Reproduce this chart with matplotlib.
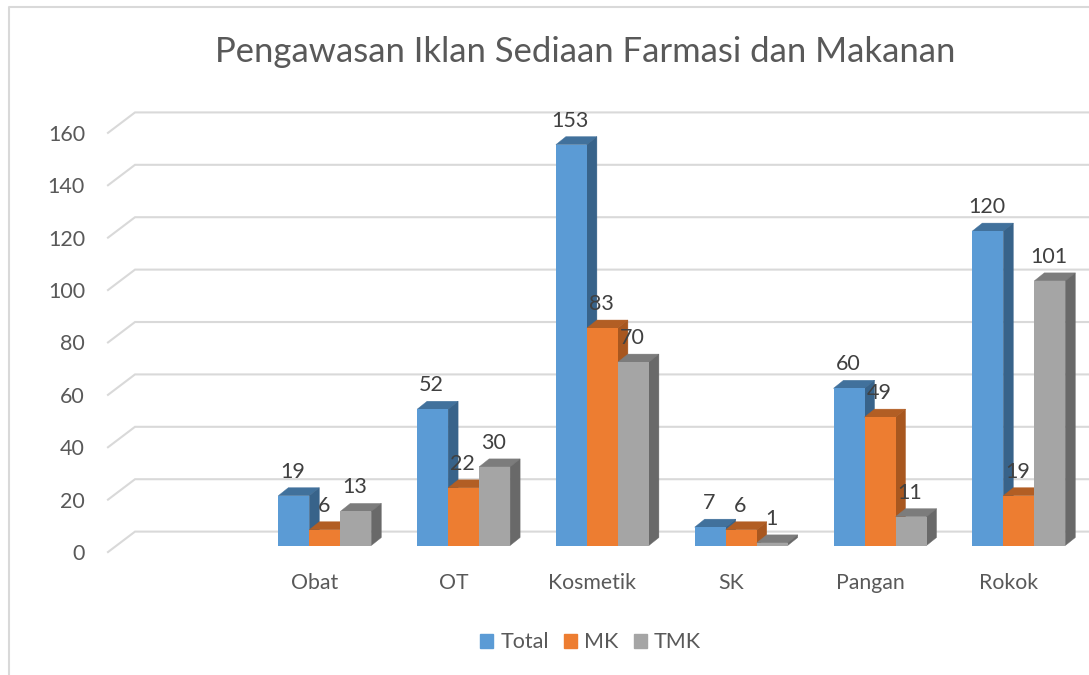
import matplotlib
matplotlib.use("Agg")
import matplotlib.pyplot as plt
from matplotlib.lines import Line2D
from matplotlib.patches import Patch, Polygon

plt.rcParams['font.family'] = ['Lato', 'DejaVu Sans']

# Data
categories = ["Obat", "OT", "Kosmetik", "SK", "Pangan", "Rokok"]
series_names = ["Total", "MK", "TMK"]
total = [19, 52, 153, 7, 60, 120]
mk = [6, 22, 83, 6, 49, 19]
tmk = [13, 30, 70, 1, 11, 101]
y_ticks = [0, 20, 40, 60, 80, 100, 120, 140, 160]

# Style
W, H = 1089, 675
GROUP_PX = 138.8
VALUE_PX = 2.62
BASE_Y_PX = 545.5
FIRST_X_PX = 324.8
BAR_PX = 31.0
DEPTH_X_PX, DEPTH_Y_PX = 10.0, 8.0
front = ["#5B9BD5", "#ED7D31", "#A5A5A5"]
side = ["#38638A", "#A8571F", "#696969"]
top = ["#41719C", "#B25E24", "#7C7C7C"]
GRID = "#D9D9D9"
TICK = "#595959"
LABEL = "#404040"

fig = plt.figure(figsize=(W / 100, H / 100), dpi=100)
ax = fig.add_axes([0, 0, 1, 1])
ax.set_xlim(-FIRST_X_PX / GROUP_PX, (W - FIRST_X_PX) / GROUP_PX)
ax.set_ylim(-(H - BASE_Y_PX) / VALUE_PX, BASE_Y_PX / VALUE_PX)
ax.axis("off")

px_x = lambda p: (p - FIRST_X_PX) / GROUP_PX
bar_w = BAR_PX / GROUP_PX
dx = DEPTH_X_PX / GROUP_PX
dy = DEPTH_Y_PX / VALUE_PX

# Walls: gridlines with the floor offset
front_x, back_x = px_x(108), px_x(135)
front_off, back_off = -2.5, 5.3
for t in y_ticks:
    ax.plot([front_x, back_x, ax.get_xlim()[1]],
            [t + front_off, t + back_off, t + back_off],
            color=GRID, lw=1.5, zorder=1, solid_joinstyle="miter")
    ax.annotate(str(t), (front_x, t + front_off), xytext=(-23, -2),
                textcoords="offset pixels", ha="right", va="center",
                fontsize=15.5, color=TICK)

# Bars
z = 2
labels = []
for i in range(len(categories)):
    for s, vals in enumerate([total, mk, tmk]):
        v = vals[i]
        x0 = i + (s - 1.5) * bar_w
        x1 = x0 + bar_w
        ax.add_patch(Polygon([(x0, v), (x1, v), (x1 + dx, v + dy), (x0 + dx, v + dy)],
                             closed=True, fc=top[s], ec=top[s], lw=0.3, zorder=z))
        ax.add_patch(Polygon([(x1, 0), (x1 + dx, dy), (x1 + dx, v + dy), (x1, v)],
                             closed=True, fc=side[s], ec=side[s], lw=0.3, zorder=z))
        ax.bar(x0, v, width=bar_w, align="edge", color=front[s], zorder=z + 0.5)
        z += 1
        labels.append((x0 + bar_w / 2, v, str(v)))

for x, v, txt in labels:
    ax.annotate(txt, (x, v), xytext=(-1, 24), textcoords="offset pixels",
                ha="center", va="center", fontsize=15.5, color=LABEL, zorder=100)

for i, c in enumerate(categories):
    ax.annotate(c, (i, 0), xytext=(-10, -37.5), textcoords="offset pixels",
                ha="center", va="center", fontsize=15.3, color=TICK)

fig.text(585 / W, 1 - 52.5 / H, "Pengawasan Iklan Sediaan Farmasi dan Makanan",
         ha="center", va="center", fontsize=24.9, color=TICK)

# Chart frame
fig.add_artist(Line2D([9 / W, 9 / W, 1], [0, 1 - 7 / H, 1 - 7 / H],
                      color=GRID, lw=1.5))

fig.legend(handles=[Patch(color=c, label=n) for c, n in zip(front, series_names)],
           loc="center", bbox_to_anchor=(590.5 / W, 1 - 642.5 / H), ncols=3, frameon=False,
           fontsize=15.5, labelcolor=TICK, handlelength=0.6, handleheight=0.6,
           handletextpad=0.35, columnspacing=0.7)

fig.savefig("out.png", dpi=100)
